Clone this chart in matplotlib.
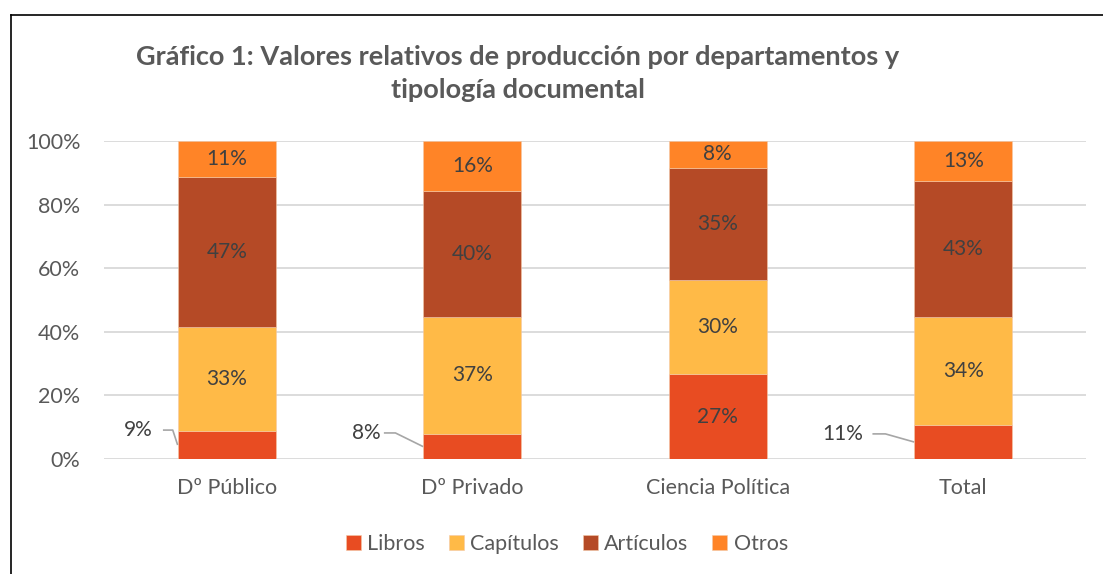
import matplotlib.pyplot as plt
from matplotlib.lines import Line2D

departamentos = ['Dº Público', 'Dº Privado', 'Ciencia Política', 'Total']
libros = [8.8, 7.8, 26.7, 10.7]
capitulos = [32.7, 37.0, 29.6, 34.0]
articulos = [47.2, 39.6, 35.2, 42.7]
otros = [11.3, 15.6, 8.5, 12.6]

series = ['Libros', 'Capítulos', 'Artículos', 'Otros']
colores = ['#E84C22', '#FFBA47', '#B54A26', '#FF8427']

plt.rcParams['font.family'] = ['Lato', 'DejaVu Sans']
gris = '#595959'

fig = plt.figure(figsize=(11.03, 5.74), dpi=100)
ax = fig.add_axes([0.0943, 0.2003, 0.8903, 0.5541])

x = list(range(len(departamentos)))
ancho = 0.4
base = [0] * len(x)
for nombre, vals, col in zip(series, [libros, capitulos, articulos, otros], colores):
    ax.bar(x, vals, ancho, bottom=base, color=col, label=nombre,
           edgecolor='#f3c9a8', linewidth=0.4, zorder=3)
    for i, v in enumerate(vals):
        if nombre == 'Libros' and v < 15:
            continue
        ax.text(x[i], base[i] + v / 2, f'{round(v)}%', ha='center', va='center',
                fontsize=15, color='#404040', zorder=4)
    base = [b + v for b, v in zip(base, vals)]

# etiquetas exteriores de Libros con línea guía
guias = {0: (-0.36, 9.1, -0.26, -0.22),
         1: (-0.43, 8.2, -0.36, -0.313),
         3: (-0.49, 7.9, -0.37, -0.317)}
for i, (dx, ty, l0, l1) in guias.items():
    ax.text(x[i] + dx, ty, f'{round(libros[i])}%', ha='center', va='center',
            fontsize=15, color='#404040')
    ax.plot([x[i] + l0, x[i] + l1, x[i] - ancho / 2], [ty, ty, libros[i] / 2],
            color='#A6A6A6', lw=1.2, zorder=4, solid_capstyle='butt')

ax.set_xlim(-0.5, 3.5)
ax.set_ylim(0, 100)
ax.set_yticks(range(0, 101, 20))
ax.set_yticklabels([f'{t}%' for t in range(0, 101, 20)])
ax.set_xticks(x)
ax.set_xticklabels(departamentos)
ax.tick_params(axis='both', length=0, labelsize=15.5, labelcolor=gris)
ax.tick_params(axis='x', pad=14)
ax.tick_params(axis='y', pad=17)
ax.grid(axis='y', color='#D9D9D9', lw=1.3, zorder=0)
for s in ax.spines.values():
    s.set_visible(False)

fig.text(518 / 1103, 1 - 57 / 574, 'Gráfico 1: Valores relativos de producción por departamentos y',
         ha='center', va='center', fontsize=19.5, fontweight='bold', color=gris)
fig.text(518 / 1103, 1 - 90 / 574, 'tipología documental',
         ha='center', va='center', fontsize=19.5, fontweight='bold', color=gris)

fig.legend(loc='center', bbox_to_anchor=(567 / 1103, 1 - 544 / 574), ncol=4, frameon=False,
           fontsize=15.5, labelcolor=gris, handlelength=0.7, handleheight=0.7,
           handletextpad=0.3, columnspacing=1.1)

# marco del gráfico
fig.add_artist(Line2D([11 / 1103, 11 / 1103], [0, 1 - 15 / 574], color='black', lw=1.2))
fig.add_artist(Line2D([11 / 1103, 1], [1 - 15 / 574, 1 - 15 / 574], color='black', lw=1.2))

fig.savefig('out.png', dpi=100)
